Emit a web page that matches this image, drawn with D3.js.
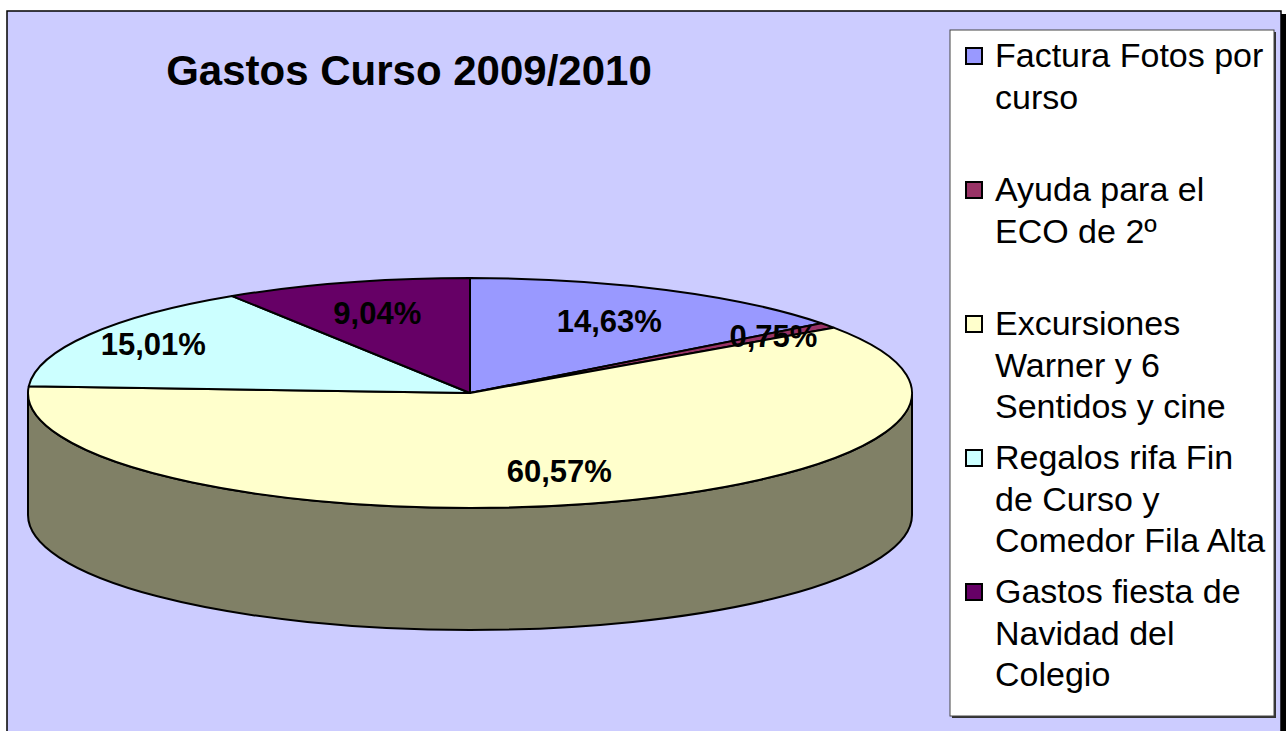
<!DOCTYPE html>
<html lang="es">

<head>
    <meta charset="UTF-8">
    <title>Gastos Curso 2009/2010</title>
    <script src="https://d3js.org/d3.v7.min.js"></script>
    <style>
        body { margin: 0; background: #fff; }
        text { font-family: Arial, "Liberation Sans", sans-serif; }
    </style>
</head>

<body>
    <script>
        // data
        var categories = ['Factura Fotos por curso', 'Ayuda para el ECO de 2º',
            'Excursiones Warner y 6 Sentidos y cine', 'Regalos rifa Fin de Curso y Comedor Fila Alta',
            'Gastos fiesta de Navidad del Colegio'];
        var percents = [14.63, 0.75, 60.57, 15.01, 9.04];
        var pctLabels = ['14,63%', '0,75%', '60,57%', '15,01%', '9,04%'];
        var legendLines = [['Factura Fotos por', 'curso'], ['Ayuda para el', 'ECO de 2º'],
            ['Excursiones', 'Warner y 6', 'Sentidos y cine'], ['Regalos rifa Fin', 'de Curso y', 'Comedor Fila Alta'],
            ['Gastos fiesta de', 'Navidad del', 'Colegio']];
        var colors = ['#9999FF', '#993366', '#FFFFCC', '#CCFFFF', '#660066'];

        var width = 1286, height = 731;
        var cx = 470, cy = 393, rx = 442, ry = 115, depth = 122;

        var svg = d3.select('body').append('svg').attr('width', width).attr('height', height);

        // chart area with shadow
        svg.append('rect').attr('x', 10).attr('y', 14).attr('width', 1276).attr('height', 730).attr('fill', '#000');
        svg.append('rect').attr('x', 7).attr('y', 11).attr('width', 1274).attr('height', 730)
            .attr('fill', '#CCCCFF').attr('stroke', '#000').attr('stroke-width', 1.5);

        // title
        svg.append('text').attr('x', 409).attr('y', 85).attr('text-anchor', 'middle')
            .attr('font-size', 42).attr('font-weight', 'bold').text('Gastos Curso 2009/2010');

        var pie = d3.pie().sort(null).value(function (d) { return d; });
        var arcs = pie(percents);

        function pt(a, dy) {
            return [cx + rx * Math.sin(a), cy - ry * Math.cos(a) + (dy || 0)];
        }

        function shade(c) {
            var r = d3.rgb(c);
            return d3.rgb(r.r * 0.5, r.g * 0.5, r.b * 0.5).formatHex();
        }

        // front side (visible between 90 and 270 degrees)
        var g = svg.append('g');
        arcs.forEach(function (d, i) {
            var s = Math.max(d.startAngle, Math.PI / 2), e = Math.min(d.endAngle, 3 * Math.PI / 2);
            if (e <= s) return;
            var p0 = pt(s), p1 = pt(e), q1 = pt(e, depth), q0 = pt(s, depth);
            var large = (e - s) > Math.PI ? 1 : 0;
            var path = 'M' + p0 + 'A' + rx + ',' + ry + ' 0 ' + large + ' 1 ' + p1 +
                'L' + q1 + 'A' + rx + ',' + ry + ' 0 ' + large + ' 0 ' + q0 + 'Z';
            g.append('path').attr('d', path).attr('fill', shade(colors[i]))
                .attr('stroke', '#000').attr('stroke-width', 2).attr('stroke-linejoin', 'round');
        });

        // top face
        arcs.forEach(function (d, i) {
            var p0 = pt(d.startAngle), p1 = pt(d.endAngle);
            var large = (d.endAngle - d.startAngle) > Math.PI ? 1 : 0;
            var path = 'M' + cx + ',' + cy + 'L' + p0 + 'A' + rx + ',' + ry + ' 0 ' + large + ' 1 ' + p1 + 'Z';
            g.append('path').attr('d', path).attr('fill', colors[i])
                .attr('stroke', '#000').attr('stroke-width', 2).attr('stroke-linejoin', 'round');
        });

        // percentage labels, a few were moved by hand in the original
        var nudge = [[2, 0], [53, -10], [6, 0], [-50, -8], [-6, -3]];
        arcs.forEach(function (d, i) {
            var m = (d.startAngle + d.endAngle) / 2;
            var x = cx + 0.7 * rx * Math.sin(m) + nudge[i][0];
            var y = cy - 0.7 * ry * Math.cos(m) + 11 + nudge[i][1];
            svg.append('text').attr('x', x).attr('y', y).attr('text-anchor', 'middle')
                .attr('font-size', 31).attr('font-weight', 'bold').attr('fill', '#000')
                .text(pctLabels[i]);
        });

        // legend
        var leg = svg.append('g');
        leg.append('rect').attr('x', 952).attr('y', 32).attr('width', 324).attr('height', 686).attr('fill', '#333');
        leg.append('rect').attr('x', 950).attr('y', 30).attr('width', 324).attr('height', 686)
            .attr('fill', '#fff').attr('stroke', '#444').attr('stroke-width', 1);
        var ly = d3.scaleLinear().domain([0, categories.length - 1]).range([67, 603]);
        categories.forEach(function (c, i) {
            var y0 = ly(i);
            leg.append('rect').attr('x', 966).attr('y', y0 - 19).attr('width', 16).attr('height', 16)
                .attr('fill', colors[i]).attr('stroke', '#000').attr('stroke-width', 2);
            var t = leg.append('text').attr('x', 995).attr('y', y0).attr('font-size', 34).attr('fill', '#000');
            legendLines[i].forEach(function (line, j) {
                t.append('tspan').attr('x', 995).attr('y', y0 + j * 41.5).text(line);
            });
        });
    </script>
</body>

</html>
